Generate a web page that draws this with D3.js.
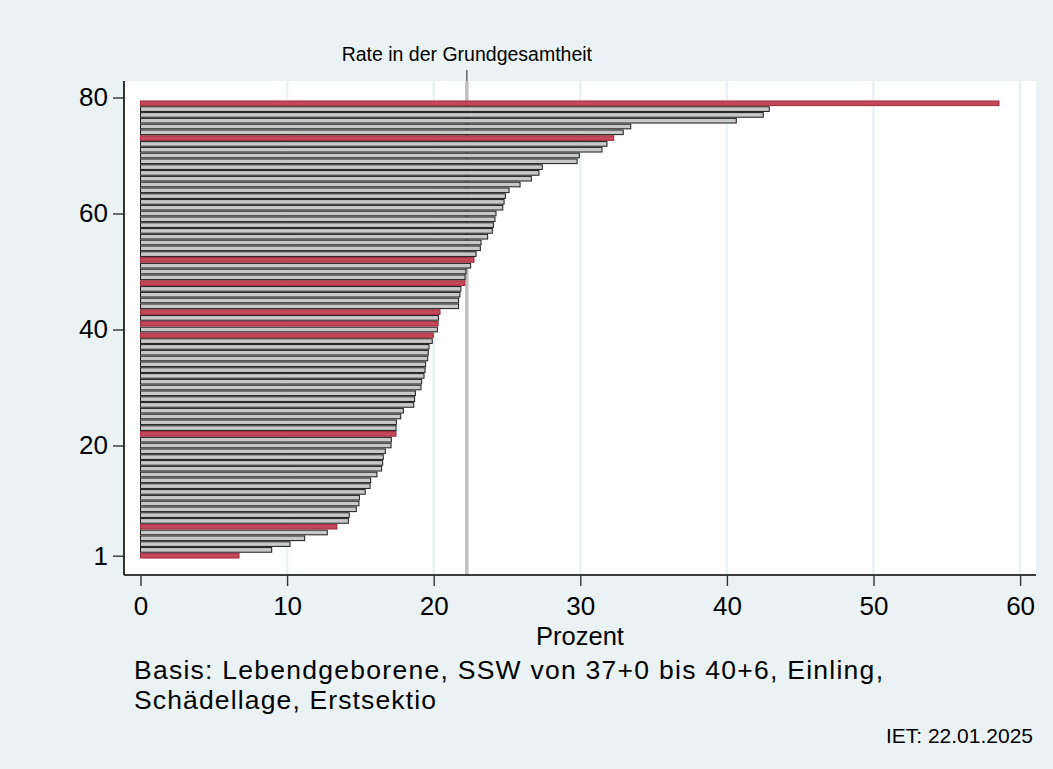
<!DOCTYPE html>
<html>
<head>
<meta charset="utf-8">
<script src="https://cdn.jsdelivr.net/npm/d3@7"></script>
<style>
	body { margin: 0; background: #eaf2f3; }
	svg { display: block; font-family: "Liberation Sans", Arial, sans-serif; }
</style>
</head>
<body>
<script>
// Rate je Einrichtung (Prozent), aufsteigend sortiert, Rang 1..79
const rates = [
	6.72, 8.95, 10.20, 11.20, 12.74, 13.40, 14.18, 14.24, 14.72, 14.90,
	14.93, 15.33, 15.66, 15.70, 16.13, 16.45, 16.52, 16.56, 16.70, 17.09,
	17.11, 17.43, 17.43, 17.45, 17.75, 17.93, 18.64, 18.70, 18.75, 19.13,
	19.18, 19.34, 19.41, 19.45, 19.59, 19.63, 19.68, 19.90, 19.97, 20.25,
	20.30, 20.32, 20.43, 21.70, 21.70, 21.79, 21.86, 22.12, 22.14, 22.20,
	22.52, 22.75, 22.89, 23.18, 23.23, 23.68, 24.00, 24.07, 24.18, 24.25,
	24.71, 24.80, 24.89, 25.14, 25.89, 26.66, 27.18, 27.41, 29.78, 29.93,
	31.48, 31.82, 32.28, 32.93, 33.44, 40.64, 42.48, 42.89, 58.56
];

// hervorgehobene Raenge (rot)
const highlighted = [1, 6, 22, 39, 41, 43, 48, 52, 73, 79];

// Rate in der Grundgesamtheit
const overallRate = [22.26];

const xTicks = [0, 10, 20, 30, 40, 50, 60];
const yTicks = [1, 20, 40, 60, 80];

const xTitle = 'Prozent';
const refLabel = 'Rate in der Grundgesamtheit';
const noteLines = ['Basis: Lebendgeborene, SSW von 37+0 bis 40+6, Einling,', 'Schädellage, Erstsektio'];
const stamp = 'IET: 22.01.2025';

const width = 1053;
const height = 769;

const plot = { left: 124, right: 1036, top: 81, bottom: 575 };
// Breite der Notizzeilen wie im Original
const noteWidths = [749, 302];

const data = rates.map(function (v, i) {
	return { rank: i + 1, value: v, red: highlighted.indexOf(i + 1) >= 0 };
});

const x = d3.scaleLinear().domain([0, 60]).range([140.5, 1020.1]);
const y = d3.scaleLinear().domain([1, 80]).range([555.7, 97.5]);
const step = Math.abs(y(2) - y(1));
const barH = step * 0.8;

const svg = d3
	.select('body')
	.append('svg')
	.attr('width', width)
	.attr('height', height);

svg.append('rect')
	.attr('width', width)
	.attr('height', height)
	.attr('fill', '#eaf2f3');

// plot region
svg.append('rect')
	.attr('x', plot.left)
	.attr('y', plot.top)
	.attr('width', plot.right - plot.left)
	.attr('height', plot.bottom - plot.top)
	.attr('fill', '#ffffff');

// vertical grid lines
svg.selectAll('.grid')
	.data(xTicks.filter(function (t) { return t > 0; }))
	.enter()
	.append('line')
	.attr('class', 'grid')
	.attr('x1', function (d) { return x(d); })
	.attr('x2', function (d) { return x(d); })
	.attr('y1', plot.top)
	.attr('y2', plot.bottom)
	.attr('stroke', '#eaf2f3')
	.attr('stroke-width', 2.5);

// reference line
svg.selectAll('.ref')
	.data(overallRate)
	.enter()
	.append('line')
	.attr('class', 'ref')
	.attr('x1', function (d) { return x(d); })
	.attr('x2', function (d) { return x(d); })
	.attr('y1', plot.top)
	.attr('y2', plot.bottom)
	.attr('stroke', '#c0c0c0')
	.attr('stroke-width', 3.5);

// bars
svg.selectAll('.bar')
	.data(data)
	.enter()
	.append('rect')
	.attr('class', 'bar')
	.attr('x', x(0))
	.attr('y', function (d) { return y(d.rank) - barH / 2; })
	.attr('width', function (d) { return x(d.value) - x(0); })
	.attr('height', barH)
	.attr('fill', function (d) { return d.red ? '#c4475a' : '#c8c8c8'; })
	.attr('stroke', function (d) { return d.red ? '#a3283d' : '#1a1a1a'; })
	.attr('stroke-width', 1);

// axes
const xAxis = d3.axisBottom(x)
	.tickValues(xTicks)
	.tickSize(11)
	.tickPadding(11);

const yAxis = d3.axisLeft(y)
	.tickValues(yTicks)
	.tickSize(11)
	.tickPadding(5);

const gx = svg.append('g')
	.attr('transform', `translate(0,${plot.bottom})`)
	.call(xAxis);

const gy = svg.append('g')
	.attr('transform', `translate(${plot.left},0)`)
	.call(yAxis);

gx.select('.domain')
	.attr('d', `M${plot.left},0H${plot.right}`)
	.attr('stroke', '#000')
	.attr('stroke-width', 1.6);
gy.select('.domain')
	.attr('d', `M0,${plot.top}V${plot.bottom}`)
	.attr('stroke', '#000')
	.attr('stroke-width', 1.6);

[gx, gy].forEach(function (g) {
	g.selectAll('.tick line')
		.attr('stroke', '#333')
		.attr('stroke-width', 1.4);
	g.selectAll('.tick text')
		.attr('fill', '#000')
		.style('font-size', '26px')
		.style('font-family', '"Liberation Sans", Arial, sans-serif');
});

gx.selectAll('.tick text').attr('dy', '0.71em');

// reference label + small marker
svg.selectAll('.refmark')
	.data(overallRate)
	.enter()
	.append('line')
	.attr('class', 'refmark')
	.attr('x1', function (d) { return x(d); })
	.attr('x2', function (d) { return x(d); })
	.attr('y1', plot.top - 11)
	.attr('y2', plot.top)
	.attr('stroke', '#444')
	.attr('stroke-width', 1.2);

svg.selectAll('.reflabel')
	.data(overallRate)
	.enter()
	.append('text')
	.attr('class', 'reflabel')
	.attr('x', function (d) { return x(d); })
	.attr('y', 61)
	.attr('text-anchor', 'middle')
	.style('font-size', '19.5px')
	.text(refLabel);

// axis title
svg.append('text')
	.attr('x', (plot.left + plot.right) / 2)
	.attr('y', 644.5)
	.attr('text-anchor', 'middle')
	.style('font-size', '25.5px')
	.text(xTitle);

// note
svg.selectAll('.note')
	.data(noteLines)
	.enter()
	.append('text')
	.attr('class', 'note')
	.attr('x', 134)
	.attr('y', function (d, i) { return 679 + i * 29.7; })
	.attr('textLength', function (d, i) { return noteWidths[i]; })
	.attr('lengthAdjust', 'spacing')
	.style('font-size', '26.5px')
	.text(function (d) { return d; });

svg.append('text')
	.attr('x', 1033)
	.attr('y', 742.5)
	.attr('text-anchor', 'end')
	.style('font-size', '21px')
	.text(stamp);
</script>
</body>
</html>
